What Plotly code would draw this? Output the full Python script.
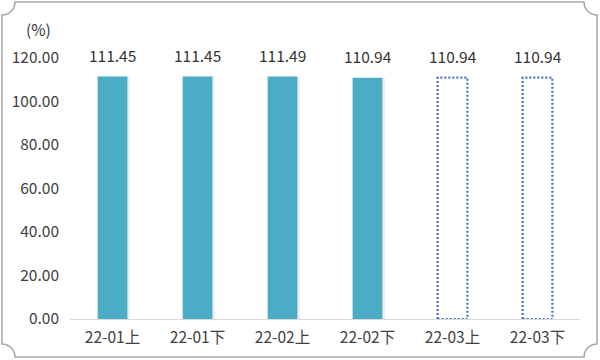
import plotly.graph_objects as go

categories = ["22-01上", "22-01下", "22-02上", "22-02下", "22-03上", "22-03下"]
values = [111.45, 111.45, 111.49, 110.94, 110.94, 110.94]
is_forecast = [False, False, False, False, True, True]
y_ticks = [0, 20, 40, 60, 80, 100, 120]
y_ticklabels = ["0.00", "20.00", "40.00", "60.00", "80.00", "100.00", "120.00"]

W, H = 600, 360
ML, MR, MT, MB = 70, 20, 58, 41
PW, PH = W - ML - MR, H - MT - MB
FONT = "Noto Sans CJK SC, Noto Sans, sans-serif"
FS = 15.5
TEAL = "#4bacc6"
BLUE = "#4472c4"
BAR_W = 0.35

idx = list(range(len(categories)))
solid_x = [i for i in idx if not is_forecast[i]]
solid_y = [values[i] for i in idx if not is_forecast[i]]

fig = go.Figure()

# faint shadow
fig.add_trace(go.Bar(x=solid_x, y=solid_y, width=BAR_W, offset=-BAR_W / 2 + 0.03,
                     marker=dict(color="rgba(0,0,0,0.07)", line=dict(width=0)),
                     hoverinfo="skip", showlegend=False))
fig.add_trace(go.Bar(x=solid_x, y=solid_y, width=BAR_W,
                     marker=dict(color=TEAL, line=dict(width=0)),
                     showlegend=False))

# dotted outline bars for forecast periods
for i in idx:
    if is_forecast[i]:
        v = values[i]
        fig.add_trace(go.Scatter(
            x=[i - BAR_W / 2, i - BAR_W / 2, i + BAR_W / 2, i + BAR_W / 2, i - BAR_W / 2],
            y=[0, v, v, 0, 0], mode="lines",
            line=dict(color=BLUE, width=2.2, dash="2px,2px"),
            hoverinfo="skip", showlegend=False))

for i in idx:
    fig.add_annotation(x=i, y=values[i], text=f"{values[i]:.2f}", showarrow=False,
                       yanchor="bottom", yshift=9,
                       font=dict(family=FONT, size=FS, color="#333333"))

fig.add_annotation(xref="paper", yref="paper", x=(38 - ML) / PW, y=(H - MB - 29) / PH,
                   text="(%)", showarrow=False, xanchor="center", yanchor="middle",
                   font=dict(family=FONT, size=FS, color="#333333"))


def P(px, py):
    return f"{(px - ML) / PW:.5f},{(H - MB - py) / PH:.5f}"


L, R, T, B, r = 2, 597, 2, 357, 13
k = 0.5523 * r
path = (
    f"M {P(L + r, T)} L {P(R - r, T)} "
    f"C {P(R - r, T + k)} {P(R - k, T + r)} {P(R, T + r)} "
    f"L {P(R, B - r)} C {P(R - k, B - r)} {P(R - r, B - k)} {P(R - r, B)} "
    f"L {P(L + r, B)} C {P(L + r, B - k)} {P(L + k, B - r)} {P(L, B - r)} "
    f"L {P(L, T + r)} C {P(L + k, T + r)} {P(L + r, T + k)} {P(L + r, T)} Z"
)
fig.add_shape(type="path", xref="paper", yref="paper", path=path,
              line=dict(color="#a6a6a6", width=1.5), layer="below")

fig.update_layout(
    width=W, height=H,
    margin=dict(l=ML, r=MR, t=MT, b=MB),
    paper_bgcolor="white", plot_bgcolor="white",
    barmode="overlay", showlegend=False,
    font=dict(family=FONT, size=FS, color="#404040"),
    xaxis=dict(range=[-0.5, len(categories) - 0.5], tickmode="array", tickvals=idx,
               ticktext=categories, showgrid=False, zeroline=False,
               showline=True, linecolor="#d9d9d9", linewidth=1,
               ticks="", tickfont=dict(size=FS, color="#404040"), ticklabelstandoff=4),
    yaxis=dict(range=[0, 120], tickmode="array", tickvals=y_ticks, ticktext=y_ticklabels,
               showgrid=False, zeroline=False, showline=False, ticks="",
               tickfont=dict(size=FS, color="#404040"), ticklabelstandoff=10),
)

fig.write_html("out.html")
